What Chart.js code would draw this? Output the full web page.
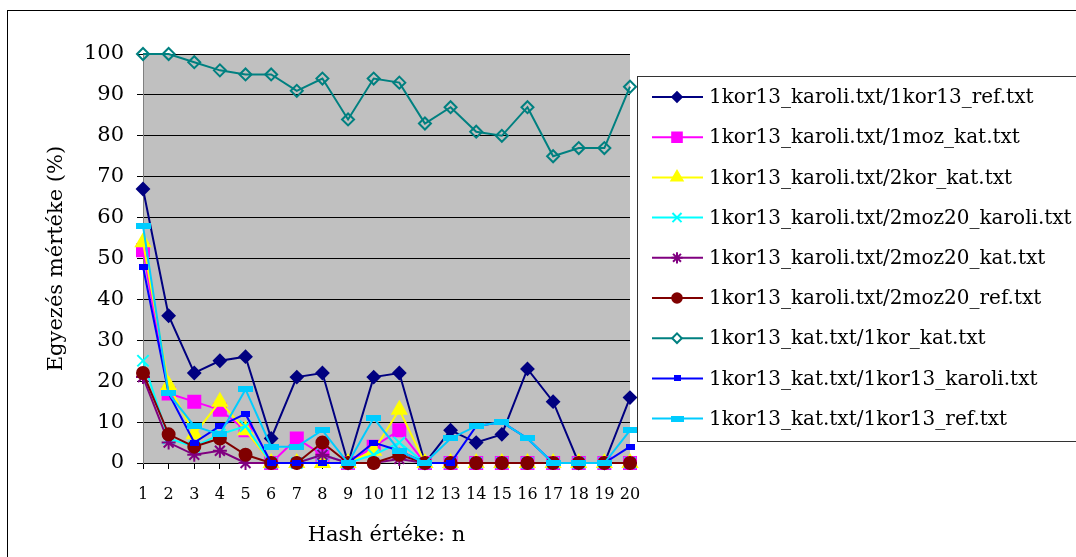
<!DOCTYPE html>
<html lang="hu">
<head>
<meta charset="utf-8">
<title>Egyezés mértéke</title>
<script src="https://cdn.jsdelivr.net/npm/chart.js@4/dist/chart.umd.min.js"></script>
<style>
  html, body { margin: 0; padding: 0; background: #fff; overflow: hidden; }
  #chartBox { position: relative; width: 1076px; height: 557px; }
</style>
</head>
<body>
<div id="chartBox"><canvas id="hashChart" width="1076" height="557"></canvas></div>
<script>
// ADATOK (az eredeti ábráról leolvasva)
const hashValues = ['1', '2', '3', '4', '5', '6', '7', '8', '9', '10',
                    '11', '12', '13', '14', '15', '16', '17', '18', '19', '20'];
const yTicks = [0, 10, 20, 30, 40, 50, 60, 70, 80, 90, 100];

const seriesNames = [
    '1kor13_karoli.txt/1kor13_ref.txt',
    '1kor13_karoli.txt/1moz_kat.txt',
    '1kor13_karoli.txt/2kor_kat.txt',
    '1kor13_karoli.txt/2moz20_karoli.txt',
    '1kor13_karoli.txt/2moz20_kat.txt',
    '1kor13_karoli.txt/2moz20_ref.txt',
    '1kor13_kat.txt/1kor_kat.txt',
    '1kor13_kat.txt/1kor13_karoli.txt',
    '1kor13_kat.txt/1kor13_ref.txt'
];

const karoliRef      = [67, 36, 22, 25, 26, 6, 21, 22, 0, 21, 22, 0, 8, 5, 7, 23, 15, 0, 0, 16];
const karoliMozKat   = [52, 17, 15, 13, 8, 0, 6, 2, 0, 4, 8, 0, 0, 0, 0, 0, 0, 0, 0, 0];
const karoliKorKat   = [54, 19, 7, 15, 8, 0, 0, 0, 0, 3, 13, 0, 0, 0, 0, 0, 0, 0, 0, 0];
const karoliMozKaroli = [25, 6, 4, 7, 9, 0, 0, 2, 0, 2, 5, 0, 0, 0, 0, 0, 0, 0, 0, 0];
const karoliMoz20Kat = [21, 5, 2, 3, 0, 0, 0, 2, 0, 0, 1, 0, 0, 0, 0, 0, 0, 0, 0, 0];
const karoliMoz20Ref = [22, 7, 4, 6, 2, 0, 0, 5, 0, 0, 2, 0, 0, 0, 0, 0, 0, 0, 0, 0];
const katKorKat      = [100, 100, 98, 96, 95, 95, 91, 94, 84, 94, 93, 83, 87, 81, 80, 87, 75, 77, 77, 92];
const katKaroli      = [48, 17, 5, 9, 12, 0, 0, 0, 0, 5, 3, 0, 0, 9, 10, 6, 0, 0, 0, 4];
const katRef         = [58, 17, 9, 7, 18, 4, 4, 8, 0, 11, 3, 0, 6, 9, 10, 6, 0, 0, 0, 8];

const seriesValues = [karoliRef, karoliMozKat, karoliKorKat, karoliMozKaroli,
                      karoliMoz20Kat, karoliMoz20Ref, katKorKat, katKaroli, katRef];

// kis téglalap jelölők (Excel-szerű)
function rectMarker(w, h, color) {
    const c = document.createElement('canvas');
    c.width = w;
    c.height = h;
    const g = c.getContext('2d');
    g.fillStyle = color;
    g.fillRect(0, 0, w, h);
    return c;
}

// STÍLUSOK
const seriesStyles = [
    { color: '#000080', fill: '#000080', point: 'rectRot', r: 6 },
    { color: '#ff00ff', fill: '#ff00ff', point: 'rect', r: 8.5 },
    { color: '#ffff00', fill: '#ffff00', point: 'triangle', r: 8 },
    { color: '#00ffff', fill: '#00ffff', point: 'crossRot', r: 8 },
    { color: '#800080', fill: '#800080', point: 'star', r: 7 },
    { color: '#800000', fill: '#800000', point: 'circle', r: 6 },
    { color: '#008080', fill: 'rgba(0,0,0,0)', point: 'rectRot', r: 6 },
    { color: '#0000ff', fill: '#0000ff', point: rectMarker(9, 6, '#0000ff'), r: 5 },
    { color: '#00ccff', fill: '#00ccff', point: rectMarker(15, 6, '#00ccff'), r: 7 }
];

const serif = 'DejaVu Serif';

// háttér, keret és jelmagyarázat
const frameAndLegend = {
    id: 'frameAndLegend',
    beforeDraw(chart) {
        const { ctx, chartArea: a } = chart;
        ctx.save();
        ctx.fillStyle = '#c0c0c0';
        ctx.fillRect(a.left, a.top, a.right - a.left, a.bottom - a.top);
        ctx.strokeStyle = '#000';
        ctx.lineWidth = 1;
        ctx.strokeRect(7.5, 10.5, 2000, 2000);
        ctx.restore();
    },
    afterDraw(chart) {
        const ctx = chart.ctx;
        ctx.save();
        ctx.fillStyle = '#fff';
        ctx.fillRect(637.5, 76.5, 600, 365);
        ctx.strokeStyle = '#333';
        ctx.lineWidth = 1;
        ctx.strokeRect(637.5, 76.5, 600, 365);
        chart.data.datasets.forEach((ds, i) => {
            const y = 97 + i * 40.2;
            const st = seriesStyles[i];
            ctx.strokeStyle = st.color;
            ctx.lineWidth = 2;
            ctx.beginPath();
            ctx.moveTo(652, y);
            ctx.lineTo(703, y);
            ctx.stroke();
            ctx.fillStyle = st.fill === 'rgba(0,0,0,0)' ? '#fff' : st.fill;
            const pt = typeof st.point === 'string' ? st.point : rectMarker(st.point.width - 2, st.point.height, st.color);
            Chart.helpers.drawPoint(ctx, { pointStyle: pt, rotation: 0, radius: st.r * 0.8, borderWidth: 2 }, 677, y);
            ctx.fillStyle = '#000';
            ctx.font = '20px "' + serif + '"';
            ctx.textBaseline = 'middle';
            ctx.textAlign = 'left';
            ctx.fillText(ds.label, 709, y + 1);
        });
        ctx.restore();
    }
};

const datasets = seriesValues.map((vals, i) => ({
    label: seriesNames[i],
    data: vals,
    borderColor: seriesStyles[i].color,
    backgroundColor: seriesStyles[i].fill,
    borderWidth: 2,
    pointStyle: seriesStyles[i].point,
    pointRadius: seriesStyles[i].r,
    pointBorderWidth: 2,
    pointBorderColor: seriesStyles[i].color,
    pointBackgroundColor: seriesStyles[i].fill,
    tension: 0,
    clip: false,
    order: seriesValues.length - i
}));

new Chart(document.getElementById('hashChart'), {
    type: 'line',
    data: { labels: hashValues, datasets: datasets },
    options: {
        responsive: false,
        animation: false,
        events: [],
        layout: { padding: { left: 0, top: 54, right: 446, bottom: 0 } },
        plugins: {
            legend: { display: false },
            tooltip: { enabled: false }
        },
        scales: {
            x: {
                offset: false,
                grid: { drawOnChartArea: false, drawTicks: true, tickLength: 6, color: '#000' },
                border: { color: '#000', width: 1 },
                ticks: {
                    autoSkip: false, maxRotation: 0, padding: 16,
                    color: '#000', font: { family: serif, size: 16 }
                },
                title: {
                    display: true, text: 'Hash értéke: n', color: '#000',
                    font: { family: serif, size: 21 }, padding: { top: 0, bottom: 9 }
                },
                afterFit: (s) => { s.height = 94; }
            },
            y: {
                min: 0,
                max: 100,
                afterBuildTicks: (s) => { s.ticks = yTicks.map(v => ({ value: v })); },
                grid: { color: '#000', tickColor: '#000', tickLength: 6 },
                border: { color: '#808080', width: 1 },
                ticks: {
                    padding: 13, color: '#000',
                    font: { family: serif, size: 21 }
                },
                title: {
                    display: true, text: 'Egyezés mértéke (%)', color: '#000',
                    font: { family: serif, size: 21 }, padding: { top: 44, bottom: 0 }
                },
                afterFit: (s) => { s.width = 143; }
            }
        }
    },
    plugins: [frameAndLegend]
});
</script>
</body>
</html>
